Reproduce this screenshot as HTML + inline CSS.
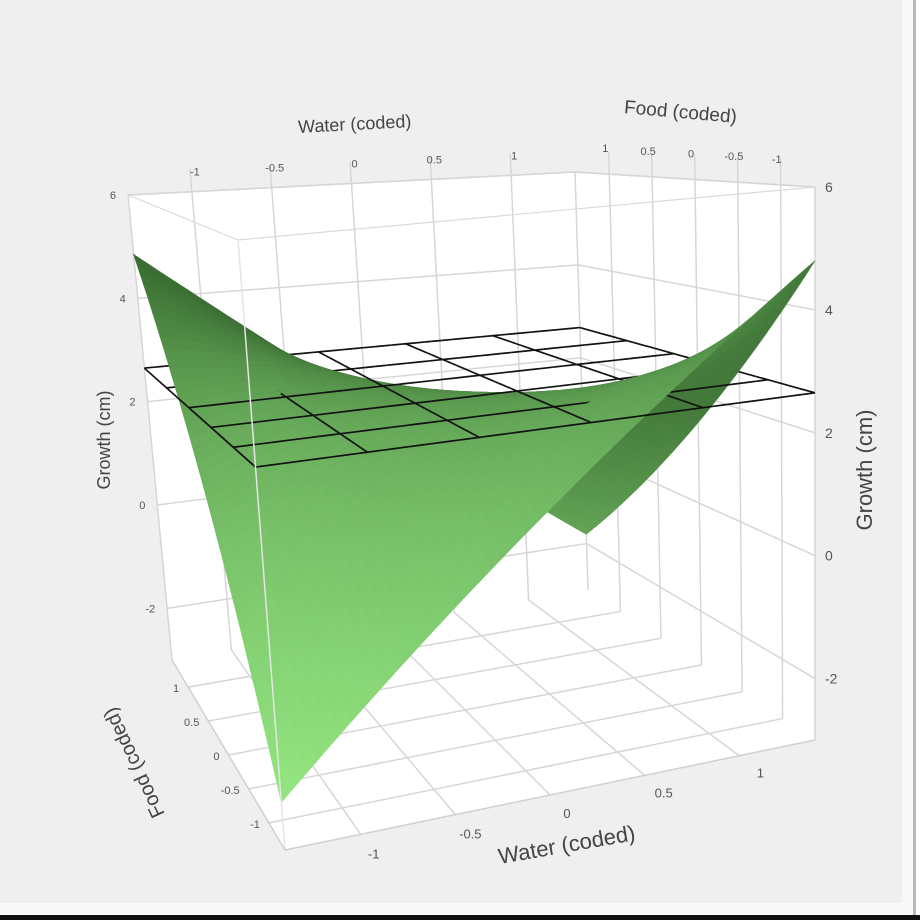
<!DOCTYPE html>
<html><head><meta charset="utf-8"><style>
html,body{margin:0;padding:0;background:#fff;}
svg{display:block;font-family:"Liberation Sans",sans-serif;}
</style></head><body>
<svg id="chart" width="920" height="920" viewBox="0 0 920 920" xmlns="http://www.w3.org/2000/svg">
<rect x="0" y="0" width="920" height="920" fill="#ffffff"/>
<rect x="0" y="0" width="913" height="914" fill="#f8f8f8"/>
<rect x="0" y="0" width="902" height="903" fill="#efefef"/>
<rect x="913" y="0" width="3" height="915" fill="#b8b8b8"/>
<rect x="0" y="915" width="920" height="5" fill="#111"/>
<g id="walls"></g><g id="grid"></g><g id="mesh"></g><g id="front"></g><g id="labels"></g>
</svg>
<script>
// ---- data ----
const waterTicks = [-1, -0.5, 0, 0.5, 1];
const waterTickLabels = ["-1", "-0.5", "0", "0.5", "1"];
const foodTicks = [-1, -0.5, 0, 0.5, 1];
const foodTickLabels = ["-1", "-0.5", "0", "0.5", "1"];
const growthTicks = [-2, 0, 2, 4, 6];
const growthTickLabels = ["-2", "0", "2", "4", "6"];
const surfWater = [-1.4, -0.7, 0, 0.7, 1.4];
const surfFood = [-1.4, -0.7, 0, 0.7, 1.4];
// rows = food (from -1.4 to 1.4), cols = water
const growthValues = [
  [-2.3, -0.525, 1.25, 3.025, 4.8],
  [-0.51, 1.0, 2.12, 2.85, 3.15],
  [1.28, 2.15, 2.5, 2.28, 1.5],
  [3.06, 2.88, 2.28, 1.27, -0.15],
  [4.85, 3.19, 1.525, -0.14, -1.8]
];
const planeLevel = [2.65];
const planeGrid = [-1.4, -0.84, -0.28, 0.28, 0.84, 1.4];

// ---- geometry ----
const NS = "http://www.w3.org/2000/svg";
const WD = [-1.4, 1.4], FD = [-1.4, 1.4], ZD = [-3, 6];
const C = {
  bN:[285,850], bR:[815,740], bL:[172,660], bB:[588,590],
  tN:[238,240], tR:[815,187], tL:[128,195], tB:[575,172]
};
function bil(a,b,c,d,u,v){return [a[0]*(1-u)*(1-v)+b[0]*u*(1-v)+c[0]*(1-u)*v+d[0]*u*v,
  a[1]*(1-u)*(1-v)+b[1]*u*(1-v)+c[1]*(1-u)*v+d[1]*u*v];}
function P(u,v,t){const b=bil(C.bN,C.bR,C.bL,C.bB,u,v),p=bil(C.tN,C.tR,C.tL,C.tB,u,v);
  return [b[0]+(p[0]-b[0])*t, b[1]+(p[1]-b[1])*t];}
const uS = w => (w-WD[0])/(WD[1]-WD[0]);
const vS = f => (f-FD[0])/(FD[1]-FD[0]);
const tS = z => (z-ZD[0])/(ZD[1]-ZD[0]);
function cr(p0,p1,p2,p3,s){return 0.5*((2*p1)+(-p0+p2)*s+(2*p0-5*p1+4*p2-p3)*s*s+(-p0+3*p1-3*p2+p3)*s*s*s);}
function gv(j,i){const nj=growthValues.length,ni=growthValues[0].length;
  const jj=Math.max(0,Math.min(nj-1,j)),ii=Math.max(0,Math.min(ni-1,i));
  let val=growthValues[jj][ii];
  if(i<0) val=2*growthValues[jj][0]-growthValues[jj][1];
  if(i>ni-1) val=2*growthValues[jj][ni-1]-growthValues[jj][ni-2];
  if(j<0) val=2*gv(0,i)-gv(1,i);
  if(j>nj-1) val=2*gv(nj-1,i)-gv(nj-2,i);
  return val;}
function surfZ(w,f){
  let i=0; while(i<surfWater.length-2 && w>surfWater[i+1]) i++;
  let j=0; while(j<surfFood.length-2 && f>surfFood[j+1]) j++;
  const a=(w-surfWater[i])/(surfWater[i+1]-surfWater[i]), b=(f-surfFood[j])/(surfFood[j+1]-surfFood[j]);
  const rows=[];
  for(let r=-1;r<=2;r++) rows.push(cr(gv(j+r,i-1),gv(j+r,i),gv(j+r,i+1),gv(j+r,i+2),a));
  return cr(rows[0],rows[1],rows[2],rows[3],b);
}
function mk(tag,attrs,parent){const e=document.createElementNS(NS,tag);for(const k in attrs)e.setAttribute(k,attrs[k]);parent.appendChild(e);return e;}
const pts = arr => arr.map(p=>p[0].toFixed(1)+","+p[1].toFixed(1)).join(" ");
const gWalls=document.getElementById("walls"),gGrid=document.getElementById("grid"),gMesh=document.getElementById("mesh"),gFront=document.getElementById("front"),gLab=document.getElementById("labels");

let w1=mk("polygon",{points:pts([P(0,1,0),P(1,1,0),P(1,1,1),P(0,1,1)]),fill:"#fff"},gWalls);


let w2=mk("polygon",{points:pts([P(1,0,0),P(1,1,0),P(1,1,1),P(1,0,1)]),fill:"#fff"},gWalls);


let w3=mk("polygon",{points:pts([P(0,0,0),P(1,0,0),P(1,1,0),P(0,1,0)]),fill:"#fff"},gWalls);



function gline(a,b,name,parent,col,wd){const l=mk("line",{x1:a[0],y1:a[1],x2:b[0],y2:b[1],stroke:col||"#d6d6d6","stroke-width":wd||1.5},parent||gGrid);
  
  return l;}
waterTicks.forEach(w=>{const u=uS(w);
  gline(P(u,1,0),P(u,1,1.05),'back-wall-water-gridline');
  gline(P(u,0,0),P(u,1,0),'floor-water-gridline');});
foodTicks.forEach(f=>{const v=vS(f);
  gline(P(1,v,0),P(1,v,1.05),'right-wall-food-gridline');
  gline(P(0,v,0),P(1,v,0),'floor-food-gridline');});
growthTicks.forEach(z=>{const t=tS(z);
  gline(P(0,1,t),P(1,1,t),'back-wall-growth-gridline');
  gline(P(1,0,t),P(1,1,t),'right-wall-growth-gridline');});
gline(P(0,1,0),P(0,1,1),'box-edge');gline(P(1,1,0),P(1,1,1),'box-edge');gline(P(1,0,0),P(1,0,1),'box-edge');
gline(P(0,1,1),P(1,1,1),'box-edge');gline(P(1,1,1),P(1,0,1),'box-edge');

const items=[];const K=0.6;const n=44;
const Lx=-0.7,Ly=-0.5,Lz=0.5,Ln=Math.hypot(Lx,Ly,Lz);
for(let i=0;i<n;i++)for(let j=0;j<n;j++){
  const u0=i/n,u1=(i+1)/n,v0=j/n,v1=(j+1)/n;
  const w=u=>WD[0]+u*(WD[1]-WD[0]),f=v=>FD[0]+v*(FD[1]-FD[0]);
  const t00=tS(surfZ(w(u0),f(v0))),t10=tS(surfZ(w(u1),f(v0))),t01=tS(surfZ(w(u0),f(v1))),t11=tS(surfZ(w(u1),f(v1)));
  const dtu=((t10+t11)-(t00+t01))/2*n, dtv=((t01+t11)-(t00+t10))/2*n;
  const nl=Math.hypot(dtu,dtv,1);
  let lam=(-dtu*Lx - dtv*Ly + Lz)/nl/Ln; lam=Math.max(0,Math.min(1,lam));
  const tm=(t00+t10+t01+t11)/4;
  let b=0.4*lam+0.65*(1-tm)-0.05; b=Math.max(0,Math.min(1,b));
  const r=Math.round(40+b*115),g=Math.round(85+b*155),bl=Math.round(35+b*100);
  const col=`rgb(${r},${g},${bl})`;
  const d=(u0+u1+v0+v1)/2 - K*tm;
  items.push({d,tag:"polygon",a:{points:pts([P(u0,v0,t00),P(u1,v0,t10),P(u1,v1,t11),P(u0,v1,t01)]),fill:col,stroke:col,"stroke-width":0.6},name:'surface-patch'});
}
const tp=tS(planeLevel[0]);const m=44;
planeGrid.forEach(g=>{
  for(let k=0;k<m;k++){const s0=k/m,s1=(k+1)/m;
    const u=uS(g);
    items.push({d:u+(s0+s1)/2-K*tp-0.001,tag:"line",a:(()=>{const a=P(u,s0,tp),b=P(u,s1,tp);return{x1:a[0],y1:a[1],x2:b[0],y2:b[1],stroke:"#111","stroke-width":1.7}})(),name:'plane-water-gridline'});
    const v=vS(g);
    items.push({d:v+(s0+s1)/2-K*tp-0.001,tag:"line",a:(()=>{const a=P(s0,v,tp),b=P(s1,v,tp);return{x1:a[0],y1:a[1],x2:b[0],y2:b[1],stroke:"#111","stroke-width":1.7}})(),name:'plane-food-gridline'});
  }
});
items.sort((a,b)=>b.d-a.d);
items.forEach(it=>{const e=mk(it.tag,it.a,gMesh);
  
  });

gline(P(0,0,0),P(0,0,1),'box-front-edge',gFront,"#e4e4e4",1.5);
gline(P(0,0,1),P(0,1,1),'box-front-edge',gFront,"#dadada",1.2);
gline(P(0,0,1),P(1,0,1),'box-front-edge',gFront,"#dadada",1.2);
gline(P(0,0,0),P(0,1,0),'box-front-edge',gFront,"#d0d0d0",1.5);
gline(P(0,0,0),P(1,0,0),'box-front-edge',gFront,"#d0d0d0",1.5);

function txt(x,y,s,name,opt){const e=mk("text",Object.assign({x:x,y:y,fill:"#555","font-size":11,"text-anchor":"middle"},opt||{}),gLab);e.textContent=s;
  
  return e;}
waterTicks.forEach((w,i)=>{const p=P(uS(w),1,1);txt(p[0]+3,p[1]-16,waterTickLabels[i],'top-water-tick-label');
  const q=P(uS(w),-0.1,0);txt(q[0],q[1]+6,waterTickLabels[i],'bottom-water-tick-label',{"font-size":13});});
foodTicks.forEach((f,i)=>{const p=P(1,vS(f),1);txt(p[0]-4,p[1]-22,foodTickLabels[i],'top-food-tick-label');
  const q=P(0,vS(f),0);txt(q[0]-9,q[1]+5,foodTickLabels[i],'bottom-food-tick-label',{"text-anchor":"end"});});
growthTicks.forEach((z,i)=>{const p=P(0,1,tS(z));txt(p[0]-12,p[1]+4,growthTickLabels[i],'left-growth-tick-label',{"text-anchor":"end"});
  const q=P(1,0,tS(z));txt(q[0]+10,q[1]+5,growthTickLabels[i],'right-growth-tick-label',{"text-anchor":"start","font-size":14});});
txt(355,130,"Water (coded)",'top-water-axis-title',{"font-size":18,fill:"#444",transform:"rotate(-3 355 130)"});
txt(680,118,"Food (coded)",'top-food-axis-title',{"font-size":19,fill:"#444",transform:"rotate(5 680 118)"});
txt(110,440,"Growth (cm)",'left-growth-axis-title',{"font-size":18,fill:"#444",transform:"rotate(-90 110 440)"});
txt(872,470,"Growth (cm)",'right-growth-axis-title',{"font-size":22,fill:"#444",transform:"rotate(-90 872 470)"});
txt(568,852,"Water (coded)",'bottom-water-axis-title',{"font-size":22,fill:"#444",transform:"rotate(-10 568 852)"});
txt(140,760,"Food (coded)",'bottom-food-axis-title',{"font-size":20,fill:"#444",transform:"rotate(-115 140 760)"});
</script>
</body></html>
